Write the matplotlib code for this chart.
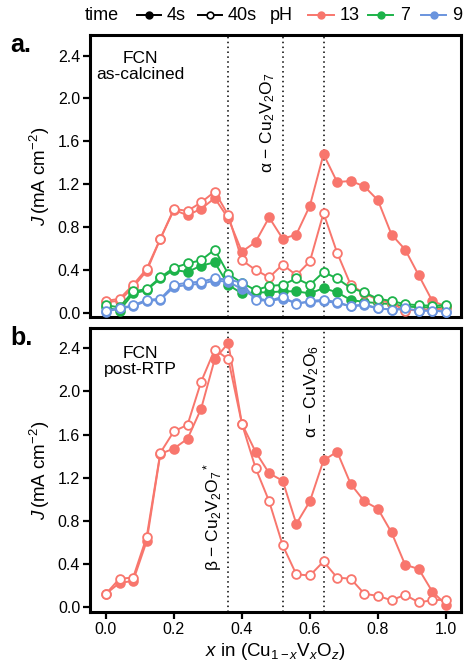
import matplotlib
matplotlib.use("Agg")
import matplotlib.pyplot as plt
from matplotlib.lines import Line2D

plt.rcParams['font.family'] = ['Liberation Sans', 'DejaVu Sans']
plt.rcParams['mathtext.fontset'] = 'custom'
plt.rcParams['mathtext.rm'] = 'Liberation Sans'
plt.rcParams['mathtext.it'] = 'Liberation Sans:italic'
plt.rcParams['mathtext.bf'] = 'Liberation Sans:bold'

# composition x (V fraction)
x = [0.00, 0.04, 0.08, 0.12, 0.16, 0.20, 0.24, 0.28, 0.32, 0.36, 0.40, 0.44, 0.48,
     0.52, 0.56, 0.60, 0.64, 0.68, 0.72, 0.76, 0.80, 0.84, 0.88, 0.92, 0.96, 1.00]

# panel a: as-calcined, J in mA cm^-2
a_ph13_4s = [0.10, 0.11, 0.24, 0.39, 0.69, 0.96, 0.91, 0.97, 1.07, 0.88, 0.57, 0.66, 0.89,
             0.69, 0.73, 1.00, 1.48, 1.22, 1.23, 1.18, 1.05, 0.73, 0.59, 0.35, 0.11, 0.06]
a_ph13_40s = [0.11, 0.13, 0.26, 0.41, 0.69, 0.97, 0.95, 1.03, 1.13, 0.91, 0.49, 0.40, 0.33,
              0.45, 0.35, 0.48, 0.93, 0.56, 0.26, 0.18, 0.12, 0.09, 0.02, 0.03, 0.03, 0.04]
a_ph7_4s = [0.05, 0.02, 0.18, 0.21, 0.32, 0.40, 0.38, 0.44, 0.47, 0.26, 0.18, 0.19, 0.19,
            0.20, 0.20, 0.18, 0.23, 0.19, 0.12, 0.10, 0.09, 0.08, 0.06, 0.05, 0.05, 0.05]
a_ph7_40s = [0.07, 0.05, 0.20, 0.22, 0.33, 0.42, 0.46, 0.49, 0.59, 0.36, 0.28, 0.21, 0.25,
             0.26, 0.32, 0.26, 0.38, 0.32, 0.23, 0.19, 0.13, 0.11, 0.08, 0.07, 0.065, 0.07]
a_ph9_4s = [0.01, 0.04, 0.06, 0.11, 0.12, 0.24, 0.26, 0.27, 0.30, 0.29, 0.22, 0.14, 0.11,
            0.13, 0.09, 0.10, 0.11, 0.09, 0.06, 0.07, 0.04, 0.03, 0.03, 0.02, 0.02, 0.01]
a_ph9_40s = [0.02, 0.04, 0.07, 0.12, 0.13, 0.26, 0.28, 0.29, 0.32, 0.31, 0.28, 0.12, 0.11,
             0.15, 0.08, 0.11, 0.12, 0.10, 0.06, 0.08, 0.04, 0.03, 0.04, 0.02, 0.02, 0.01]

# panel b: post-RTP, pH 13 only
b_4s = [0.12, 0.22, 0.24, 0.61, 1.42, 1.47, 1.56, 1.84, 2.30, 2.45, 1.70, 1.44, 1.24,
        1.17, 0.77, 0.98, 1.36, 1.44, 1.14, 0.98, 0.91, 0.69, 0.39, 0.35, 0.14, 0.02]
b_40s = [0.12, 0.26, 0.27, 0.65, 1.43, 1.63, 1.69, 2.09, 2.39, 2.30, 1.70, 1.29, 0.98,
         0.57, 0.30, 0.29, 0.42, 0.27, 0.26, 0.12, 0.10, 0.06, 0.11, 0.04, 0.06, 0.065]

phase_lines = [0.36, 0.52, 0.64]
yticks = [0.0, 0.4, 0.8, 1.2, 1.6, 2.0, 2.4]
xticks = [0.0, 0.2, 0.4, 0.6, 0.8, 1.0]

red = '#F8766D'
green = '#1DB34A'
blue = '#6A94DE'

ms = 6.3
lw = 1.4


def series(ax, y, color, filled):
    # one curve, filled markers for 4 s and open markers for 40 s
    ax.plot(x, y, color=color, lw=lw, marker='o', ms=ms,
            mfc=color if filled else 'white', mec=color, mew=1.3, zorder=3)


def style(ax, show_x):
    for s in ax.spines.values():
        s.set_linewidth(2.2)
    ax.set_xlim(-0.047, 1.044)
    ax.set_ylim(-0.04, 2.59)
    ax.set_yticks(yticks)
    ax.set_yticklabels(['%.1f' % v for v in yticks])
    ax.tick_params(axis='both', direction='out', length=5, width=1.6,
                   labelsize=11.5, colors='black', pad=2)
    if show_x:
        ax.set_xticks(xticks)
        ax.set_xticklabels(['%.1f' % v for v in xticks])
    else:
        ax.set_xticks([])
    for v in phase_lines:
        ax.axvline(v, color='black', lw=1.1, ls=(0, (1, 2.2)), zorder=1)
    ax.set_ylabel(r'$J\,$(mA cm$^{-2}$)', fontsize=13.5, labelpad=4)


fig = plt.figure(figsize=(4.66, 6.66), dpi=100)
ax1 = fig.add_axes([0.193, 0.524, 0.796, 0.423])
ax2 = fig.add_axes([0.193, 0.081, 0.796, 0.4265])

for y, c in [(a_ph13_4s, red), (a_ph7_4s, green), (a_ph9_4s, blue)]:
    series(ax1, y, c, True)
for y, c in [(a_ph13_40s, red), (a_ph7_40s, green), (a_ph9_40s, blue)]:
    series(ax1, y, c, False)
style(ax1, False)

series(ax2, b_4s, red, True)
series(ax2, b_40s, red, False)
style(ax2, True)
ax2.set_ylim(-0.05, 2.59)
ax2.set_xlabel(r'$x$ in (Cu$_{1-x}$V$_x$O$_z$)', fontsize=13.5, labelpad=3)

ax1.text(0.10, 2.30, 'FCN\nas-calcined', ha='center', va='center', fontsize=12.5, linespacing=1.1)
ax2.text(0.10, 2.28, 'FCN\npost-RTP', ha='center', va='center', fontsize=12.5, linespacing=1.1)
ax1.text(0.476, 2.24, 'α − Cu$_2$V$_2$O$_7$', rotation=90, ha='center', va='top', fontsize=12.5)
ax2.text(0.315, 0.33, 'β − Cu$_2$V$_2$O$_7$$^*$', rotation=90, ha='center', va='bottom', fontsize=12.5)
ax2.text(0.605, 2.43, 'α − CuV$_2$O$_6$', rotation=90, ha='center', va='top', fontsize=12.5)

fig.text(0.022, 0.932, 'a.', fontsize=18, fontweight='bold', va='center')
fig.text(0.022, 0.493, 'b.', fontsize=18, fontweight='bold', va='center')

# legend row across the top
ly = 0.977
W = 466.0
fs = 13


def handle(x0, x1, color, filled):
    fig.add_artist(Line2D([x0 / W, x1 / W], [ly, ly], transform=fig.transFigure,
                          color=color, lw=lw))
    fig.add_artist(Line2D([(x0 + x1) / 2 / W], [ly], transform=fig.transFigure,
                          marker='o', ms=4.8, mfc=color if filled else 'white',
                          mec=color, mew=1.2, ls='none'))


fig.text(85 / W, ly, 'time', fontsize=fs, va='center')
handle(137, 161, 'black', True)
fig.text(167 / W, ly, '4s', fontsize=fs, va='center')
handle(198, 222, 'black', False)
fig.text(228 / W, ly, '40s', fontsize=fs, va='center')
fig.text(270 / W, ly, 'pH', fontsize=fs, va='center')
handle(308, 334, red, True)
fig.text(340 / W, ly, '13', fontsize=fs, va='center')
handle(368, 393, green, True)
fig.text(400 / W, ly, '7', fontsize=fs, va='center')
handle(421, 446, blue, True)
fig.text(452 / W, ly, '9', fontsize=fs, va='center')

fig.savefig('out.png', dpi=100)
